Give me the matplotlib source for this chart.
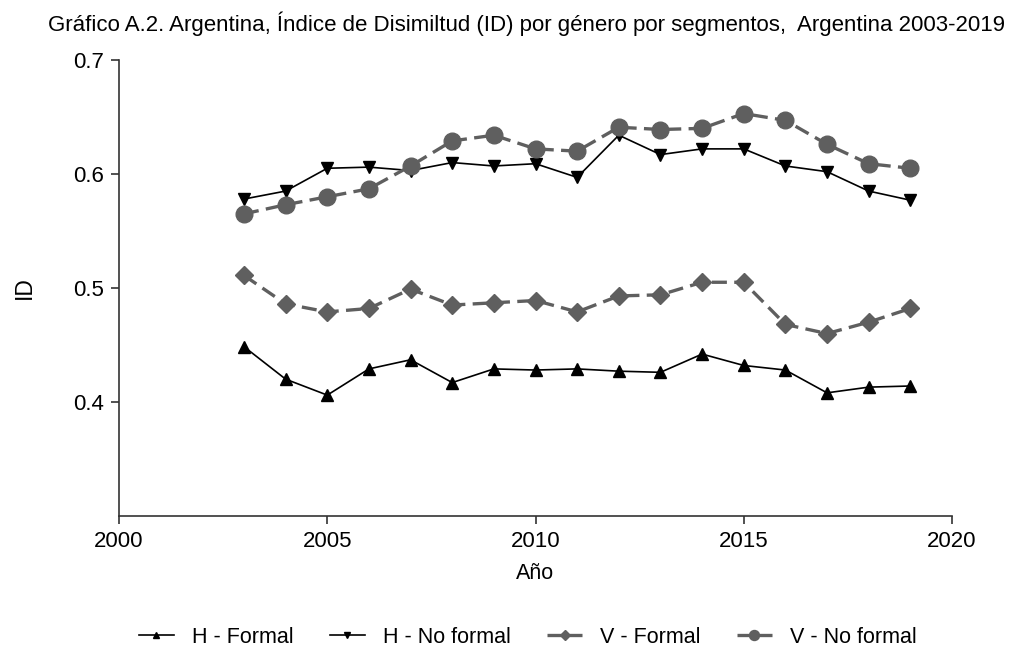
import matplotlib.pyplot as plt

plt.rcParams['font.family'] = ['Liberation Sans', 'DejaVu Sans']

# Datos
anios = list(range(2003, 2020))
h_formal = [0.4485, 0.420, 0.406, 0.429, 0.437, 0.417, 0.429, 0.428, 0.429,
            0.427, 0.426, 0.442, 0.432, 0.428, 0.408, 0.413, 0.414]
h_no_formal = [0.578, 0.585, 0.605, 0.606, 0.603, 0.610, 0.607, 0.609, 0.597,
               0.634, 0.617, 0.622, 0.622, 0.607, 0.602, 0.585, 0.577]
v_formal = [0.511, 0.486, 0.479, 0.482, 0.499, 0.485, 0.487, 0.489, 0.479,
            0.493, 0.494, 0.505, 0.505, 0.468, 0.460, 0.470, 0.482]
v_no_formal = [0.565, 0.573, 0.580, 0.587, 0.607, 0.629, 0.634, 0.622, 0.620,
               0.641, 0.639, 0.640, 0.653, 0.647, 0.626, 0.609, 0.605]

fig = plt.figure(figsize=(10.21, 6.49), dpi=100)
ax = fig.add_axes([0.1166, 0.205, 0.8158, 0.7026])

gris = '#5f5f5f'
ax.plot(anios, h_formal, color='black', lw=1.2, marker='^', markersize=8,
        label='H - Formal')
ax.plot(anios, h_no_formal, color='black', lw=1.2, marker='v', markersize=8,
        label='H - No formal')
ax.plot(anios, v_formal, color=gris, lw=2.4, dashes=(4.5, 2.2), marker='D',
        markersize=9, label='V - Formal')
ax.plot(anios, v_no_formal, color=gris, lw=2.4, dashes=(4.5, 2.2), marker='o',
        markersize=12, label='V - No formal')

ax.set_xlim(2000, 2020)
ax.set_ylim(0.3, 0.7)
ax.set_xticks([2000, 2005, 2010, 2015, 2020])
ax.set_yticks([0.4, 0.5, 0.6, 0.7])
ax.set_yticklabels(['0.4', '0.5', '0.6', '0.7'])
for lado in ['top', 'right']:
    ax.spines[lado].set_visible(False)
for lado in ['left', 'bottom']:
    ax.spines[lado].set_color('#333333')
    ax.spines[lado].set_linewidth(1.2)
ax.tick_params(direction='out', length=6, width=1.2, color='#333333',
               labelsize=16, pad=5)

ax.set_xlabel('Año', fontsize=15.5, labelpad=8)
ax.set_ylabel('ID', fontsize=16.5, labelpad=27)

fig.suptitle('Gráfico A.2. Argentina, Índice de Disimiltud (ID) por género '
             'por segmentos,  Argentina 2003-2019', fontsize=16, x=0.516,
             y=0.983)

fig.legend(loc='center', bbox_to_anchor=(0.517, 0.018), ncol=4,
           frameon=False, fontsize=15.5, handlelength=1.6, handletextpad=0.85,
           columnspacing=1.7, markerscale=0.6)

fig.savefig('out.png', dpi=100)
